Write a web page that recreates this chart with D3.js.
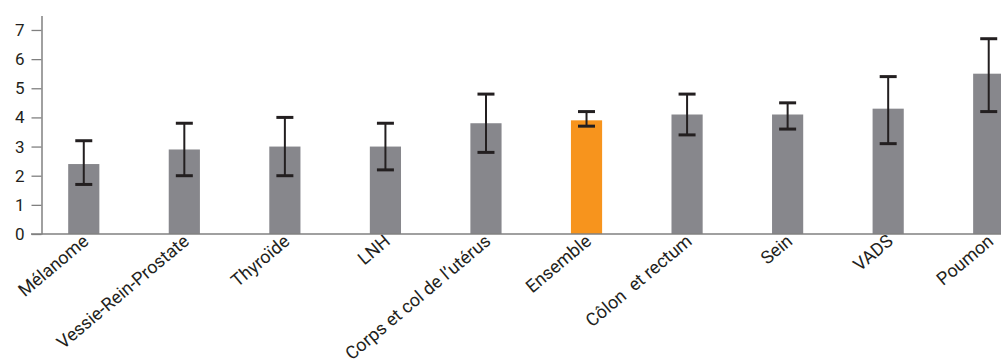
<!DOCTYPE html>
<html><head><meta charset="utf-8">
<script src="https://cdn.jsdelivr.net/npm/d3@7"></script>
<style>
body{margin:0;background:#fff;}
svg{display:block;font-family:Roboto,"Noto Sans",sans-serif;}
</style></head>
<body>
<svg id="chart" width="1001" height="363"></svg>
<script>
const categories = ["Mélanome","Vessie-Rein-Prostate","Thyroïde","LNH","Corps et col de l\u2019utérus","Ensemble","Côlon  et rectum","Sein","VADS","Poumon"];
const values = [2.4, 2.9, 3.0, 3.0, 3.8, 3.9, 4.1, 4.1, 4.3, 5.5];
const lower = [1.7, 2.0, 2.0, 2.2, 2.8, 3.7, 3.4, 3.6, 3.1, 4.2];
const upper = [3.2, 3.8, 4.0, 3.8, 4.8, 4.2, 4.8, 4.5, 5.4, 6.7];
const highlight = "Ensemble";
const yTicks = [0,1,2,3,4,5,6,7];

const data = categories.map((c,i)=>({c, v:values[i], lo:lower[i], hi:upper[i]}));
const svg = d3.select("#chart");

const x = d3.scaleBand().domain(categories).range([33.5, 1039]).paddingInner(0.69).paddingOuter(0.345);
const y = d3.scaleLinear().domain([0, 7.5]).range([234, 15.4]);

// bars
svg.append("g").selectAll("rect").data(data).join("rect")
  .attr("x", d=>x(d.c)).attr("width", x.bandwidth())
  .attr("y", d=>y(d.v)).attr("height", d=>y(0)-y(d.v))
  .attr("fill", d=>d.c===highlight ? "#f7941d" : "#87878c");

// error bars
const eb = svg.append("g").attr("stroke", "#231f20");
const cx = d=>x(d.c)+x.bandwidth()/2;
eb.selectAll("line.v").data(data).join("line").attr("class","v")
  .attr("x1",cx).attr("x2",cx).attr("y1",d=>y(d.hi)).attr("y2",d=>y(d.lo)).attr("stroke-width",2);
eb.selectAll("line.t").data(data).join("line").attr("class","t")
  .attr("x1",d=>cx(d)-8.5).attr("x2",d=>cx(d)+8.5).attr("y1",d=>y(d.hi)).attr("y2",d=>y(d.hi)).attr("stroke-width",3);
eb.selectAll("line.b").data(data).join("line").attr("class","b")
  .attr("x1",d=>cx(d)-8.5).attr("x2",d=>cx(d)+8.5).attr("y1",d=>y(d.lo)).attr("y2",d=>y(d.lo)).attr("stroke-width",3);

// y axis
const yAxis = svg.append("g").attr("transform","translate(41.5,0)")
  .call(d3.axisLeft(y).tickValues(yTicks).tickSize(10).tickPadding(7).tickSizeOuter(0));
yAxis.select(".domain").attr("stroke","#808080").attr("stroke-width",1.5);
yAxis.selectAll(".tick line").attr("stroke","#808080").attr("stroke-width",1.3);
yAxis.selectAll(".tick text").attr("font-size",17).attr("fill","#231f20").attr("font-family","Roboto");

// x axis
const xAxis = svg.append("g").attr("transform",`translate(0,${y(0)})`)
  .call(d3.axisBottom(x).tickSize(0).tickSizeOuter(0));
xAxis.select(".domain").remove();
svg.append("line").attr("x1",31).attr("x2",1001).attr("y1",y(0)).attr("y2",y(0))
  .attr("stroke","#808080").attr("stroke-width",1.5);
xAxis.selectAll(".tick text")
  .attr("font-size",18).attr("fill","#231f20").attr("font-family","Roboto")
  .style("white-space","pre")
  .attr("text-anchor","end").attr("y",0).attr("dy",0)
  .attr("transform","translate(6,9) rotate(-40)");
</script>
</body></html>
